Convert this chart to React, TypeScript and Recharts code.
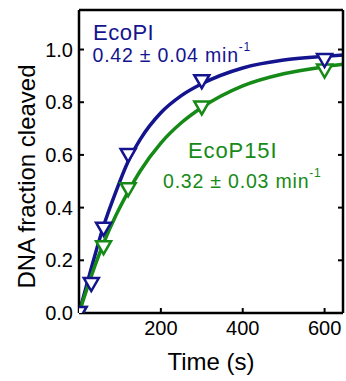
import { ComposedChart, Line, Scatter, XAxis, YAxis, Label } from "recharts";

// fitted curves
const fitTimes = [0, 30, 60, 90, 120, 150, 200, 250, 300, 400, 500, 600, 645];
const ecoPIFit = [0, 0.17, 0.33, 0.46, 0.575, 0.66, 0.76, 0.825, 0.87, 0.93, 0.96, 0.974, 0.979];
const ecoP15IFit = [0, 0.14, 0.265, 0.37, 0.46, 0.54, 0.645, 0.722, 0.78, 0.862, 0.908, 0.935, 0.944];

// measured points
const ecoPITimes = [0, 30, 60, 120, 300, 600];
const ecoPIValues = [0, 0.11, 0.32, 0.6, 0.88, 0.96];
const ecoP15ITimes = [0, 60, 120, 300, 600];
const ecoP15IValues = [0, 0.25, 0.47, 0.78, 0.92];

const xTicks = [200, 400, 600];
const yTicks = [0, 0.2, 0.4, 0.6, 0.8, 1.0];

const BLUE = "#14148f";
const GREEN = "#168a16";
const FONT = "'Liberation Sans', Arial, sans-serif";

const fitData = fitTimes.map((t, i) => ({ t, ecoPI: ecoPIFit[i], ecoP15I: ecoP15IFit[i] }));
const ecoPIPoints = ecoPITimes.map((t, i) => ({ t, y: ecoPIValues[i] }));
const ecoP15IPoints = ecoP15ITimes.map((t, i) => ({ t, y: ecoP15IValues[i] }));

function DownTriangle(props: any) {
  const { cx, cy, color } = props;
  if (cx == null || cy == null) return null;
  const w = 7.5;
  return (
    <polygon
      points={`${cx - w},${cy - 6} ${cx + w},${cy - 6} ${cx},${cy + 7}`}
      fill="#fff"
      stroke={color}
      strokeWidth={2.5}
    />
  );
}

function YTitle(props: any) {
  const vb = props.viewBox || {};
  const x = 35;
  const y = vb.y + vb.height / 2 + 15;
  return (
    <text x={x} y={y} transform={`rotate(-90 ${x} ${y})`} textAnchor="middle"
      fontSize={24} fontFamily={FONT} fill="#000">
      DNA fraction cleaved
    </text>
  );
}

// mirror axes: tick marks only, no labels
const NoLabel = () => <g />;

const tickStyle = { fontSize: 20, fontFamily: FONT, fill: "#000" };
const axisLine = { stroke: "#000", strokeWidth: 2.5 };
const tickLine = { stroke: "#000", strokeWidth: 2 };

export default function App() {
  return (
    <div style={{ position: "absolute", left: 0, top: 0, width: 346, height: 381, background: "#fff" }}>
      <ComposedChart width={346} height={381} margin={{ top: 9, right: 2, bottom: 0, left: 0 }}>
        <XAxis xAxisId="b" dataKey="t" type="number" domain={[0, 645]} ticks={xTicks}
          allowDataOverflow height={68} tickSize={-5} tickMargin={13}
          tick={tickStyle} axisLine={axisLine} tickLine={tickLine}>
          <Label value="Time (s)" position="insideBottom" offset={11}
            style={{ fontSize: 24, fontFamily: FONT, fill: "#000" }} />
        </XAxis>
        <XAxis xAxisId="top" orientation="top" type="number" domain={[0, 645]} ticks={xTicks}
          allowDataOverflow height={1} tickSize={-5} tick={NoLabel}
          axisLine={axisLine} tickLine={tickLine} />
        <YAxis yAxisId="l" type="number" domain={[0, 1.15]} ticks={yTicks}
          allowDataOverflow width={79} tickSize={-5} tickMargin={11}
          tickFormatter={(v: number) => v.toFixed(1)}
          tick={tickStyle} axisLine={axisLine} tickLine={tickLine}>
          <Label content={<YTitle />} />
        </YAxis>
        <YAxis yAxisId="r" orientation="right" type="number" domain={[0, 1.15]} ticks={yTicks}
          allowDataOverflow width={1} tickSize={-5} tick={NoLabel}
          axisLine={axisLine} tickLine={tickLine} />
        <Line xAxisId="b" yAxisId="l" data={fitData} dataKey="ecoPI" type="monotone"
          stroke={BLUE} strokeWidth={3.5} dot={false} isAnimationActive={false} />
        <Line xAxisId="b" yAxisId="l" data={fitData} dataKey="ecoP15I" type="monotone"
          stroke={GREEN} strokeWidth={3.5} dot={false} isAnimationActive={false} />
        <Scatter xAxisId="b" yAxisId="l" data={ecoP15IPoints} dataKey="y"
          shape={(p: any) => <DownTriangle {...p} color={GREEN} />} isAnimationActive={false} />
        <Scatter xAxisId="b" yAxisId="l" data={ecoPIPoints} dataKey="y"
          shape={(p: any) => <DownTriangle {...p} color={BLUE} />} isAnimationActive={false} />
      </ComposedChart>
      <svg width={346} height={381} style={{ position: "absolute", left: 0, top: 0, pointerEvents: "none" }}
        fontFamily={FONT}>
        <text x={93} y={39.5} fontSize={22} fill={BLUE} letterSpacing={0.5}>EcoPI</text>
        <text x={92.5} y={62} fontSize={19.5} fill={BLUE} letterSpacing={0.8}>
          0.42 ± 0.04 min<tspan dy={-11} fontSize={12}>-1</tspan>
        </text>
        <text x={188} y={158} fontSize={22} fill={GREEN} letterSpacing={0.9}>EcoP15I</text>
        <text x={163} y={188} fontSize={19.5} fill={GREEN} letterSpacing={0.8}>
          0.32 ± 0.03 min<tspan dy={-11} fontSize={12}>-1</tspan>
        </text>
      </svg>
    </div>
  );
}
